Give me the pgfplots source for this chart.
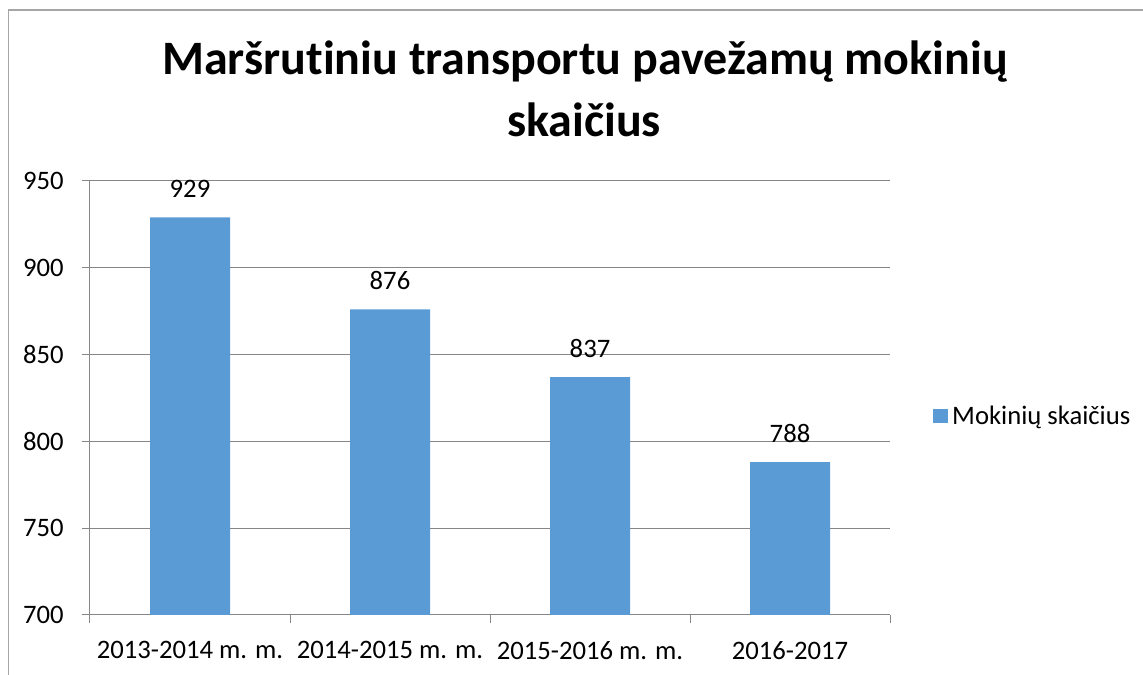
\documentclass[border=0pt]{standalone}
\usepackage{pgfplots}
\pgfplotsset{compat=1.18}
\usepackage{fontspec}
\setmainfont[Ligatures=NoCommon]{Carlito}
\definecolor{barblue}{HTML}{5B9BD5}
\definecolor{gridgray}{HTML}{868686}
\definecolor{framegray}{HTML}{A6A6A6}
\begin{document}
\begin{tikzpicture}
\path[use as bounding box] (0pt,0pt) rectangle (857.25pt,506.25pt);
\begin{scope}[x=0.75pt,y=-0.75pt,shift={(0pt,506.25pt)}]
\draw[framegray, line width=1.1pt] (8.5,690) -- (8.5,10) -- (1143,10);
\node[anchor=base, inner sep=0pt, font=\fontsize{36}{42}\selectfont\bfseries] at (585,75) {Maršrutiniu transportu pavežamų mokinių};
\node[anchor=base, inner sep=0pt, font=\fontsize{36}{42}\selectfont\bfseries] at (584,136.5) {skaičius};
\end{scope}
\begin{axis}[
  at={(67.5pt,45pt)}, anchor=south west,
  width=600pt, height=325.5pt, scale only axis,
  xmin=-0.5, xmax=3.5, ymin=700, ymax=950,
  ytick={700,750,800,850,900,950},
  xtick={0,1,2,3},
  xticklabels={2013-2014 m. m., 2014-2015 m. m., 2015-2016 m. m., 2016-2017},
  minor xtick={-0.5,0.5,1.5,2.5,3.5},
  axis x line=bottom, axis y line=left,
  axis line style={gridgray, line width=0.75pt, -},
  ymajorgrids, major grid style={gridgray, line width=0.75pt},
  tick style={gridgray, line width=0.75pt},
  major x tick style={draw=none},
  major tick length=6pt, minor tick length=6pt,
  tick align=outside,
  /pgf/number format/assume math mode=true,
  tick label style={font=\fontsize{20}{24}\selectfont, text=black},
  yticklabel style={anchor=east, inner sep=0pt, xshift=-13.5pt},
  xticklabel style={anchor=north, inner sep=0pt, yshift=-13.5pt},
  ybar, bar width=60pt, bar shift=0pt,
  nodes near coords,
  nodes near coords style={font=\fontsize{20}{24}\selectfont, anchor=south, inner sep=0pt, yshift=14.6pt, text=black},
  legend style={at={(1.054,0.4585)}, anchor=west, draw=none, fill=none, inner sep=0pt, outer sep=0pt, font=\fontsize{20}{24}\selectfont, legend cell align=left, nodes={inner sep=3pt}},
  legend image code/.code={\fill[#1] (0pt,-5.6pt) rectangle (11.25pt,5.6pt);},
]
\addplot[fill=barblue, draw=none] coordinates {(0,929) (1,876) (2,837) (3,788)};
\addlegendentry{Mokinių skaičius}
\end{axis}
\end{tikzpicture}
\end{document}
